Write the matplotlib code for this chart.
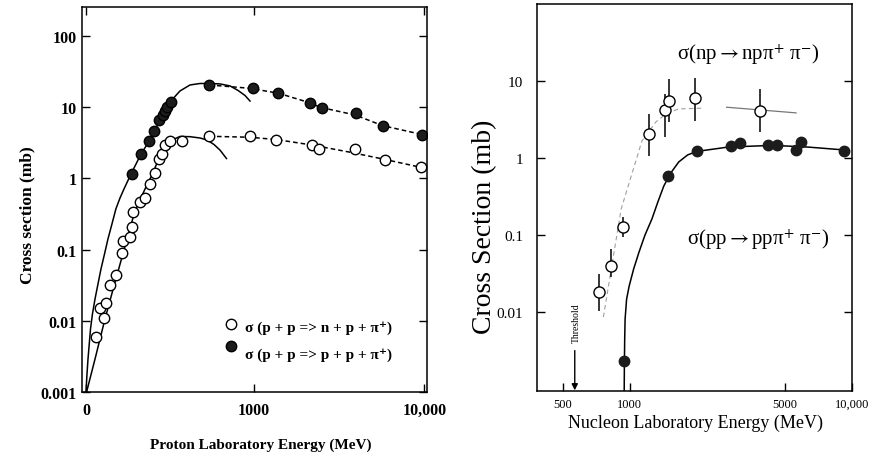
import numpy as np
import matplotlib as mpl
mpl.use('Agg')  # no display

import matplotlib.pyplot as plt
from matplotlib.ticker import NullLocator

plt.rcParams['font.family'] = ['Liberation Serif', 'DejaVu Serif']
plt.rcParams['mathtext.fontset'] = 'stix'

# ---- left: single pion production in pp (MeV, mb) ----
npi_E = [17, 26, 34, 38, 46, 61, 76, 80, 99, 104, 109, 130, 148, 166, 186, 204,
         214, 229, 253, 315, 506, 950, 1370, 2245, 2490, 4020, 5970, 9530]
npi_sig = [0.006, 0.015, 0.011, 0.018, 0.032, 0.044, 0.09, 0.13, 0.15, 0.21, 0.34,
           0.46, 0.53, 0.83, 1.2, 1.9, 2.2, 2.9, 3.4, 3.4, 3.9, 3.9, 3.5, 2.95,
           2.6, 2.6, 1.8, 1.43]
ppi_E = [104, 133, 164, 182, 204, 219, 229, 240, 257, 506, 980, 1410, 2190, 2570,
         4070, 5790, 9650]
ppi_sig = [1.15, 2.2, 3.3, 4.7, 6.5, 7.8, 8.9, 10, 11.8, 20.5, 18.6, 15.7, 11.3,
           9.8, 8.3, 5.5, 4.1]

# model curves (solid) and high-energy trend lines (dashed)
npi_curve_E = [1, 16, 36, 59, 85, 114, 148, 174, 207, 253, 306, 366, 434, 487,
               545, 599, 663]
npi_curve_sig = [0.001, 0.0029, 0.0106, 0.0351, 0.112, 0.348, 0.71, 1.12, 2.06,
                 3.35, 3.88, 3.85, 3.69, 3.46, 2.99, 2.5, 1.9]
ppi_curve_E = [0, 1.7, 3.4, 7.8, 11.3, 16, 21.7, 27.7, 35, 42.5, 51.6, 61, 71.4,
               82, 102, 134, 166, 207, 253, 306, 366, 434, 511, 599, 699, 789,
               876, 943]
ppi_curve_sig = [0.001, 0.00179, 0.0029, 0.0077, 0.0125, 0.0202, 0.0329, 0.0535,
                 0.0867, 0.141, 0.229, 0.372, 0.53, 0.71, 1.15, 2.2, 3.46, 6.6,
                 11.8, 16.9, 20.5, 21.5, 21.5, 21.2, 19.9, 17.2, 14.6, 12.2]
npi_trend_E = [506, 943, 1389, 2254, 3757, 5811, 9530]
npi_trend_sig = [3.9, 3.78, 3.5, 2.94, 2.33, 1.87, 1.43]
ppi_trend_E = [506, 943, 1415, 2193, 2512, 4016, 5790, 9650]
ppi_trend_sig = [20.5, 18.4, 15.7, 11.5, 9.97, 7.77, 5.5, 4.14]

# ---- right: double pion production (MeV, mb) ----
pp2_E = [943, 1486, 2003, 2852, 3129, 4186, 4603, 5600, 5894, 9210]
pp2_sig = [0.00236, 0.588, 1.24, 1.44, 1.56, 1.48, 1.48, 1.28, 1.59, 1.24]
pp2_curve_E = [943, 945, 948, 952, 967, 993, 1040, 1100, 1170, 1257, 1337, 1422,
               1528, 1660, 1820, 1997, 2775, 4406, 6316, 9723]
pp2_curve_sig = [0.0009, 0.00214, 0.00451, 0.00819, 0.01486, 0.0219, 0.0364,
                 0.0604, 0.1003, 0.1616, 0.2685, 0.4325, 0.637, 0.885, 1.09,
                 1.21, 1.38, 1.45, 1.38, 1.25]
np2_E = [729, 822, 933, 1219, 1437, 1497, 1970, 3843]
np2_sig = [0.0182, 0.0402, 0.126, 2.04, 4.21, 5.51, 5.92, 4.09]
np2_hi = [0.0313, 0.066, 0.170, 3.7, 6.72, 10.5, 10.7, 7.8]
np2_lo = [0.0105, 0.0284, 0.0937, 1.07, 1.85, 2.89, 3.03, 2.15]
np2_fit_E = [760, 914, 1134, 1310, 1452, 1660, 2124]
np2_fit_sig = [0.0087, 0.218, 1.66, 2.92, 3.7, 4.3, 4.39]
np2_span_E = [2727, 5600]
np2_span_sig = [4.52, 3.82]
threshold_E = 565

W, H = 883, 456
fig = plt.figure(figsize=(W / 100, H / 100), dpi=100)
axL = fig.add_axes([82 / W, 1 - 393 / H, 345 / W, 385 / H])
axR = fig.add_axes([537 / W, 1 - 392 / H, 315 / W, 387 / H])

# left panel, energy axis compressed like log(E + 130)
fwd = lambda e: np.log10(np.asarray(e, dtype=float) + 130.0)
inv = lambda u: 10 ** np.asarray(u, dtype=float) - 130.0
axL.set_xscale('function', functions=(fwd, inv))
axL.set_yscale('log')
axL.set_xlim(-6.5, 10340)
axL.set_ylim(0.001, 255)

axL.plot(ppi_curve_E, ppi_curve_sig, color='k', lw=1.1)
axL.plot(npi_curve_E, npi_curve_sig, color='k', lw=1.1)
axL.plot(ppi_trend_E, ppi_trend_sig, color='k', lw=1.1, ls=(0, (3, 2)))
axL.plot(npi_trend_E, npi_trend_sig, color='k', lw=1.1, ls=(0, (3, 2)))
axL.plot(npi_E, npi_sig, 'o', ms=7.5, mfc='white', mec='k', mew=1.0)
axL.plot(ppi_E, ppi_sig, 'o', ms=7.5, mfc='#1c1c1c', mec='k', mew=1.0)

axL.set_xticks([0, 1000, 10000], ['0', '1000', '10,000'])
axL.set_yticks([0.001, 0.01, 0.1, 1, 10, 100],
               ['0.001', '0.01', '0.1', '1', '10', '100'])
axL.yaxis.set_minor_locator(NullLocator())
axL.xaxis.set_minor_locator(NullLocator())
axL.tick_params(direction='in', top=True, right=True, length=6, width=1,
                labelsize=11.5)
axL.tick_params(axis='y', pad=4)
axL.tick_params(axis='x', pad=7)
for lab in axL.get_xticklabels() + axL.get_yticklabels():
    lab.set_fontweight('bold')
for s in axL.spines.values():
    s.set_linewidth(1.1)

# legend drawn by hand
axL.plot([0.432], [0.177], 'o', ms=7.5, mfc='white', mec='k', mew=1.0,
         transform=axL.transAxes, clip_on=False)
axL.plot([0.432], [0.119], 'o', ms=7.5, mfc='#1c1c1c', mec='k', mew=1.0,
         transform=axL.transAxes, clip_on=False)
axL.text(0.472, 0.169, 'σ (p + p => n + p + π⁺)', transform=axL.transAxes,
         ha='left', va='center', fontsize=11, fontweight='bold')
axL.text(0.472, 0.099, 'σ (p + p => p + p + π⁺)', transform=axL.transAxes,
         ha='left', va='center', fontsize=11, fontweight='bold')

fig.text(27 / W, 1 - 215 / H, 'Cross section (mb)', rotation=90, ha='center',
         va='center', fontsize=12.5, fontweight='bold')
fig.text(261 / W, 1 - 445 / H, 'Proton Laboratory Energy (MeV)', ha='center',
         va='center', fontsize=11, fontweight='bold')

# right panel
axR.set_xscale('log')
axR.set_yscale('log')
axR.set_xlim(382, 9730)
axR.set_ylim(0.00096, 98)

axR.plot(np2_fit_E, np2_fit_sig, color='#a0a0a0', lw=0.8, ls=(0, (4, 3)))
axR.plot(np2_span_E, np2_span_sig, color='#777777', lw=0.9)
axR.plot(pp2_curve_E, pp2_curve_sig, color='k', lw=1.1)
axR.plot(pp2_E, pp2_sig, 'o', ms=7.5, mfc='#1c1c1c', mec='#1c1c1c')
err = [np.array(np2_sig) - np.array(np2_lo), np.array(np2_hi) - np.array(np2_sig)]
axR.errorbar(np2_E, np2_sig, yerr=err, fmt='o', ms=8, mfc='white', mec='k',
             mew=1.0, ecolor='k', elinewidth=1.1, capsize=0)

axR.annotate('', xy=(threshold_E, 0.00098), xytext=(threshold_E, 0.0032),
             arrowprops=dict(arrowstyle='-|>', color='k', lw=1.0,
                             mutation_scale=9, shrinkA=0, shrinkB=0))
axR.text(threshold_E * 1.02, 0.0075, 'Threshold', rotation=90, ha='center',
         va='center', fontsize=7)

axR.set_xticks([500, 1000, 5000, 10000], ['500', '1000', '5000', '10,000'])
axR.set_yticks([0.01, 0.1, 1, 10], ['0.01', '0.1', '1', '10'])
axR.xaxis.set_minor_locator(NullLocator())
axR.yaxis.set_minor_locator(NullLocator())
axR.tick_params(direction='in', right=True, length=6, width=1)
axR.tick_params(axis='y', labelsize=11, pad=10)
axR.tick_params(axis='x', labelsize=9, pad=5)
for s in axR.spines.values():
    s.set_linewidth(1.1)

axR.text(0.444, 0.871, r'σ(np$\rightarrow$npπ$^{+}$ π$^{-}$)',
         transform=axR.transAxes, ha='left', va='center', fontsize=15)
axR.text(0.476, 0.393, r'σ(pp$\rightarrow$ppπ$^{+}$ π$^{-}$)',
         transform=axR.transAxes, ha='left', va='center', fontsize=15)

fig.text(485 / W, 1 - 227 / H, 'Cross Section (mb)', rotation=90, ha='center',
         va='center', fontsize=20)
fig.text(695 / W, 1 - 423 / H, 'Nucleon Laboratory Energy (MeV)', ha='center',
         va='center', fontsize=13)

fig.savefig('out.png', dpi=100)
